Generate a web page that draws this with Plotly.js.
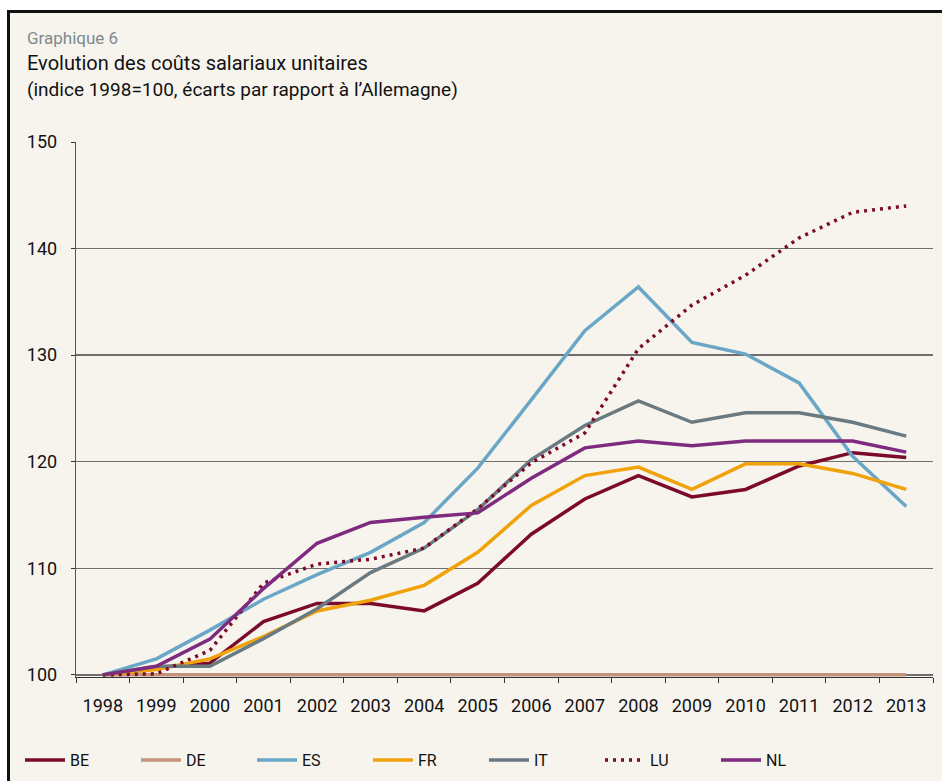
<!DOCTYPE html>
<html>
<head>
<meta charset="utf-8">
<script src="https://cdn.plot.ly/plotly-3.0.1.min.js"></script>
<style>
  html, body { margin: 0; padding: 0; background: #ffffff; overflow: hidden; }
  #bg { position: absolute; left: 7px; top: 10px; width: 1000px; height: 900px;
        border-left: 3px solid #111; border-top: 3px solid #111; background: #f7f4ee; }
  #chart { position: absolute; left: 0; top: 0; width: 942px; height: 781px; }
</style>
</head>
<body>
<div id="bg"></div>
<div id="chart"></div>
<script>
const years = ["1998","1999","2000","2001","2002","2003","2004","2005","2006","2007","2008","2009","2010","2011","2012","2013"];
const BE = [100, 100.7, 101.1, 105.0, 106.7, 106.7, 106.0, 108.6, 113.2, 116.5, 118.7, 116.7, 117.4, 119.6, 120.85, 120.4];
const DE = [100, 100, 100, 100, 100, 100, 100, 100, 100, 100, 100, 100, 100, 100, 100, 100];
const ES = [100, 101.5, 104.2, 107.1, 109.4, 111.5, 114.3, 119.4, 125.8, 132.3, 136.4, 131.2, 130.1, 127.4, 120.5, 115.8];
const FR = [100, 100.5, 101.5, 103.6, 106.0, 107.0, 108.4, 111.5, 115.9, 118.7, 119.5, 117.4, 119.8, 119.8, 118.9, 117.4];
const IT = [100, 100.8, 100.8, 103.4, 106.2, 109.6, 111.9, 115.5, 120.2, 123.4, 125.7, 123.7, 124.6, 124.6, 123.7, 122.4];
const LU = [100, 100.1, 102.3, 108.6, 110.4, 110.85, 111.9, 115.6, 119.9, 122.7, 130.6, 134.7, 137.5, 141.0, 143.4, 144.0];
const NL = [100, 100.8, 103.35, 108.1, 112.35, 114.3, 114.8, 115.2, 118.45, 121.3, 121.95, 121.5, 121.95, 121.95, 121.95, 120.9];

const series = [
  {name: "BE", y: BE, color: "#7c0a2b", dash: "solid"},
  {name: "DE", y: DE, color: "#c4927a", dash: "solid"},
  {name: "ES", y: ES, color: "#6aa7c7", dash: "solid"},
  {name: "FR", y: FR, color: "#f0a20a", dash: "solid"},
  {name: "IT", y: IT, color: "#697a82", dash: "solid"},
  {name: "LU", y: LU, color: "#7c0a2b", dash: "3px,5px"},
  {name: "NL", y: NL, color: "#7d2a7f", dash: "solid"}
];

const traces = series.map(s => ({
  type: "scatter", mode: "lines", name: s.name, x: years, y: s.y,
  line: {color: s.color, width: 3.5, dash: s.dash}
}));

const W = 857, H = 535, L = 76, B = 677;
const px = x => (x - L) / W;
const py = y => (B - y) / H;

const font = "Roboto, 'Liberation Sans', sans-serif";

const layout = {
  width: 942, height: 781,
  margin: {l: 76, r: 9, t: 142, b: 104},
  paper_bgcolor: "rgba(0,0,0,0)",
  plot_bgcolor: "rgba(0,0,0,0)",
  font: {family: font, size: 16, color: "#111"},
  showlegend: true,
  legend: {
    orientation: "h", xref: "container", yref: "container",
    x: 20 / 942, y: (781 - 760) / 781, xanchor: "left", yanchor: "middle",
    entrywidth: 61, entrywidthmode: "pixels", itemwidth: 40,
    font: {family: font, size: 16, color: "#111"},
    bgcolor: "rgba(0,0,0,0)", traceorder: "normal"
  },
  xaxis: {
    type: "category", range: [-0.5, 15.5], tickson: "boundaries",
    ticks: "outside", ticklen: 5, tickcolor: "#333", tickwidth: 1,
    showline: true, linecolor: "#333", linewidth: 1,
    showgrid: false, zeroline: false, fixedrange: true,
    tickfont: {family: font, size: 18, color: "#111"}, ticklabelstandoff: 12
  },
  yaxis: {
    range: [99.8, 150], tickvals: [100, 110, 120, 130, 140, 150],
    ticks: "outside", ticklen: 4, tickcolor: "#333", tickwidth: 1,
    showline: true, linecolor: "#555", linewidth: 1.2,
    showgrid: true, gridcolor: "#6e6e6e", gridwidth: 1.3,
    zeroline: false, fixedrange: true,
    tickfont: {family: font, size: 18, color: "#111"}, ticklabelstandoff: 10
  },
  annotations: [
    {text: "Graphique 6", xref: "paper", yref: "paper", x: px(25), y: py(38),
     xanchor: "left", yanchor: "middle", showarrow: false,
     font: {family: font, size: 17, color: "#7d8a90"}},
    {text: "Evolution des coûts salariaux unitaires", xref: "paper", yref: "paper", x: px(25), y: py(63),
     xanchor: "left", yanchor: "middle", showarrow: false,
     font: {family: font, size: 20, color: "#111"}},
    {text: "(indice 1998=100, écarts par rapport à l’Allemagne)", xref: "paper", yref: "paper", x: px(25), y: py(90),
     xanchor: "left", yanchor: "middle", showarrow: false,
     font: {family: font, size: 19, color: "#111"}}
  ]
};

Plotly.newPlot("chart", traces, layout, {displayModeBar: false, staticPlot: true});
</script>
</body>
</html>
